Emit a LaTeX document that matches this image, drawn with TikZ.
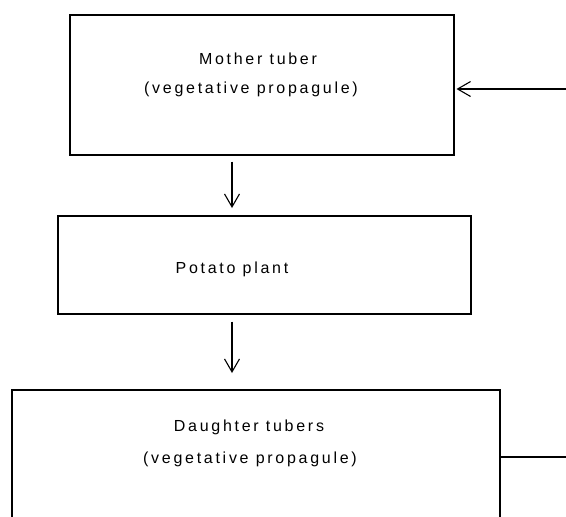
\documentclass[tikz,border=0pt]{standalone}
\usepackage{fontspec}
\setmainfont{Liberation Sans}[LetterSpace=17]
\usetikzlibrary{arrows.meta}
\begin{document}
\begin{tikzpicture}[x=1pt,y=-1pt,
  box/.style={draw, line width=1.5pt, inner sep=0pt, anchor=north west},
  lbl/.style={anchor=base, inner sep=0pt, font=\fontsize{16}{19}\selectfont},
  conn/.style={line width=1.1pt},
  arr/.style={conn, -{Straight Barb[length=13pt,width=15pt,line width=1.1pt]}}]
\clip (0,0) rectangle (566,517);
\fill[white] (0,0) rectangle (566,517);
% boxes
\node[box, minimum width=384pt, minimum height=140pt] (mother) at (69,14) {};
\node[box, minimum width=413pt, minimum height=98pt] (potato) at (57,215) {};
\node[box, minimum width=488pt, minimum height=160pt] (daughter) at (11,389) {};
% labels
\node[lbl] (m1) at (258,64) {Mother tuber};
\node[lbl] (m2) at (251,93) {(vegetative propagule)};
\node[lbl] (p1) at (232,273) {Potato plant};
\node[lbl] (d1) at (249,431) {Daughter tubers};
\node[lbl] (d2) at (250,463) {(vegetative propagule)};
% connectors
\draw[arr, shorten <=6pt, shorten >=7pt] (mother.south -| p1) -- (potato.north -| p1);
\draw[arr, shorten <=7pt, shorten >=16pt] (potato.south -| p1) -- (daughter.north -| p1);
\coordinate (r1) at (566,89);
\coordinate (r2) at (566,457);
\draw[conn] (daughter.east |- r2) -- (r2);
\draw[arr, shorten >=2pt] (r1) -- (mother.east |- r1);
\end{tikzpicture}
\end{document}
